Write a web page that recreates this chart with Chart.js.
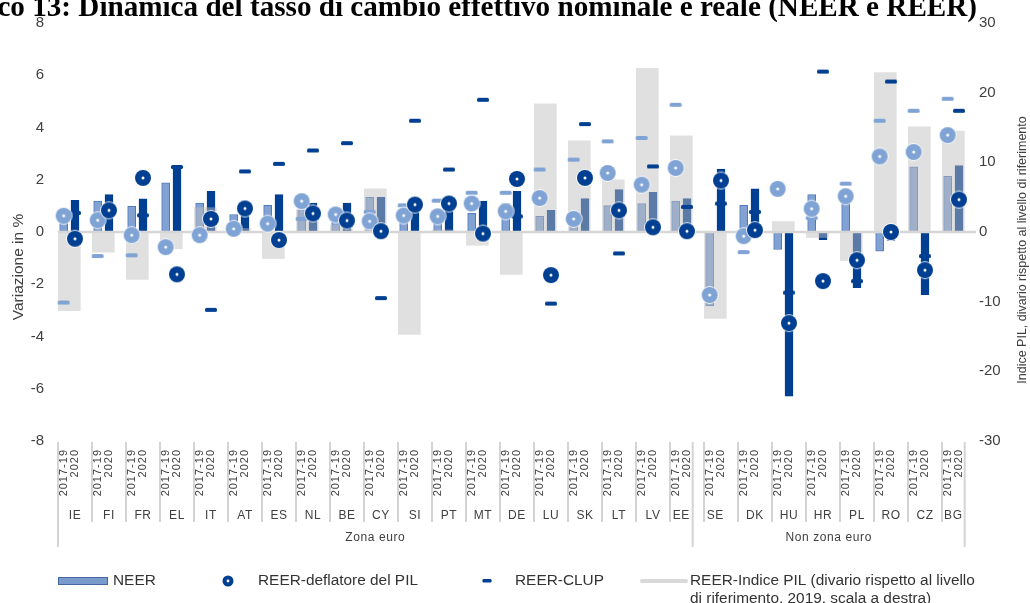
<!DOCTYPE html>
<html><head><meta charset="utf-8">
<script src="https://cdn.jsdelivr.net/npm/chart.js@4.4.1/dist/chart.umd.min.js"></script>
<style>html,body{margin:0;padding:0;background:#fff;overflow:hidden}#wrap{width:1030px;height:603px;position:relative}</style>
</head><body><div id="wrap"><canvas id="c" width="1030" height="603"></canvas></div>
<script>
// ---------- data ----------
const countries = ['IE','FI','FR','EL','IT','AT','ES','NL','BE','CY','SI','PT','MT','DE','LU','SK','LT','LV','EE','SE','DK','HU','HR','PL','RO','CZ','BG'];
const periods = ['2017-19','2020'];
const groups = ['Zona euro','Non zona euro'];
const euroCount = 19;
// NEER (% change)
const neer1719 = [0.55,1.18,0.98,1.88,1.11,0.67,1.02,0.85,0.60,1.33,0.60,0.50,0.71,1.09,0.60,0.45,1.01,1.09,1.18,-2.83,1.02,-0.67,1.43,1.37,-0.73,2.49,2.13];
const neer2020 = [1.21,1.43,1.27,2.49,1.56,0.95,1.43,1.11,1.11,1.33,1.18,1.09,1.18,1.56,0.83,1.28,1.62,1.52,1.28,2.41,1.65,-6.28,-0.29,-2.13,-0.32,-2.40,2.54];
// REER - GDP deflator
const defl1719 = [0.62,0.45,-0.12,-0.58,-0.12,0.12,0.32,1.18,0.67,0.41,0.63,0.60,1.09,0.79,1.30,0.50,2.26,1.81,2.45,-2.41,-0.16,1.65,0.89,1.37,2.89,3.06,3.71];
const defl2020 = [-0.26,0.83,2.07,-1.62,0.50,0.90,-0.31,0.71,0.44,0.03,1.05,1.09,-0.06,2.03,-1.65,2.07,0.83,0.18,0.03,1.97,0.07,-3.49,-1.88,-1.08,0.00,-1.46,1.24];
// REER - CLUP
const clup1719 = [-2.70,-0.92,-0.89,-0.58,-0.12,0.12,0.32,0.50,0.67,0.77,1.02,1.20,1.50,1.50,2.39,2.77,3.47,3.60,4.87,-2.41,-0.77,1.65,0.54,1.85,4.26,4.64,5.10];
const clup2020 = [0.73,0.83,0.64,2.49,-2.98,2.32,2.61,3.12,3.40,-2.53,4.26,2.39,5.06,0.60,-2.74,4.13,-0.82,2.51,0.96,1.09,0.77,-2.32,6.14,-1.88,5.76,-0.92,4.64];
// REER - GDP index (gap vs reference level, 2019, right scale)
const gdpGap = [-11.3,-2.9,-6.8,-2.4,3.5,0.5,-3.8,3.2,1.0,6.2,-14.7,0.3,-1.9,-6.1,18.4,13.1,7.5,23.5,13.8,-12.4,0.3,1.5,-0.8,-4.1,22.9,15.1,14.5];

const titleText = 'Grafico 13: Dinamica del tasso di cambio effettivo nominale e reale (NEER e REER)';
const leftTitle = 'Variazione in %';
const rightTitle = 'Indice PIL, divario rispetto al livello di riferimento';
const legendLabels = ['NEER','REER-deflatore del PIL','REER-CLUP','REER-Indice PIL (divario rispetto al livello','di riferimento, 2019, scala a destra)'];

// ---------- build tables ----------
const xLabels = [];
countries.forEach(() => { xLabels.push(periods[0], periods[1], ''); });
function interleave(a, b) { const r = []; a.forEach((v, i) => r.push(a[i], b[i], null)); return r; }
const neerData = interleave(neer1719, neer2020);
const deflData = interleave(defl1719, defl2020);
const clupData = interleave(clup1719, clup2020);
const gLabels = []; const gData = [];
for (let i = 0; i < xLabels.length + 1; i++) { gLabels.push(String(i)); gData.push(null); }
gdpGap.forEach((v, k) => { gData[3 * k + 1] = v; });

const FONT = "'Liberation Sans', Arial, Helvetica, sans-serif";
const LIGHT = '#7fa3d4', NAVY = '#003f91', TXT = '#404040';

function circleImg(color) {
  const c = document.createElement('canvas'); c.width = 20; c.height = 20;
  const g = c.getContext('2d');
  g.beginPath(); g.arc(10, 10, 8.9, 0, 2 * Math.PI); g.fillStyle = 'rgba(255,255,255,0.85)'; g.fill();
  g.beginPath(); g.arc(10, 10, 8.0, 0, 2 * Math.PI); g.fillStyle = color; g.fill();
  g.beginPath(); g.arc(10, 10, 1.5, 0, 2 * Math.PI); g.fillStyle = '#fff'; g.fill();
  return c;
}
function dashImg(color) {
  const c = document.createElement('canvas'); c.width = 14; c.height = 6;
  const g = c.getContext('2d');
  g.fillStyle = color; g.beginPath(); g.roundRect(1, 1, 12, 4, 1.6); g.fill();
  return c;
}
const circLight = circleImg(LIGHT), circNavy = circleImg(NAVY);
const dashLight = dashImg(LIGHT), dashNavy = dashImg(NAVY);

const decor = {
  id: 'decor',
  afterUpdate(chart) {
    const sc = chart.scales.x;
    if (sc && !sc._lsPatched) {
      const orig = sc.drawLabels.bind(sc);
      sc.drawLabels = function (ca) { const ctx = chart.ctx; ctx.save(); ctx.letterSpacing = '1px'; orig(ca); ctx.restore(); };
      sc._lsPatched = true;
    }
  },
  afterDatasetDraw(chart, args) {
    if (args.index !== 1) return;
    const ctx = chart.ctx, ca = chart.chartArea, y0 = chart.scales.y.getPixelForValue(0);
    ctx.save(); ctx.strokeStyle = '#d6d6d6'; ctx.lineWidth = 2.5;
    ctx.beginPath(); ctx.moveTo(ca.left, y0); ctx.lineTo(ca.right, y0); ctx.stroke(); ctx.restore();
  },
  afterDraw(chart) {
    const ctx = chart.ctx, ca = chart.chartArea, xs = chart.scales.x;
    const step = xs.getPixelForValue(1) - xs.getPixelForValue(0);
    const cStart = k => xs.getPixelForValue(3 * k) - step / 2;
    ctx.save();
    // title (clipped at top)
    ctx.font = "bold 26px 'Liberation Serif', 'Times New Roman', serif";
    const part = titleText.slice(titleText.indexOf('co 13'));
    const w = ctx.measureText(part).width;
    const fs = 26 * 980 / w;
    ctx.font = `bold ${fs.toFixed(2)}px 'Liberation Serif', 'Times New Roman', serif`;
    ctx.fillStyle = '#000'; ctx.textAlign = 'right'; ctx.textBaseline = 'alphabetic';
    ctx.fillText(titleText, 977, 16);
    // axis titles
    ctx.fillStyle = TXT; ctx.textAlign = 'center'; ctx.textBaseline = 'middle';
    ctx.save(); ctx.translate(19, 267); ctx.rotate(-Math.PI / 2); ctx.font = `15.5px ${FONT}`; ctx.fillText(leftTitle, 0, 0); ctx.restore();
    ctx.save(); ctx.translate(1023, 250); ctx.rotate(-Math.PI / 2); ctx.font = `12.5px ${FONT}`; ctx.fillText(rightTitle, 0, 0); ctx.restore();
    // separators
    ctx.strokeStyle = '#d4d4d4'; ctx.lineWidth = 2;
    const yb = ca.bottom + 1;
    const euroEnd = cStart(euroCount - 1) + 2 * step;
    const allEnd = cStart(countries.length - 1) + 2 * step;
    ctx.beginPath();
    for (let k = 1; k < countries.length; k++) { const x = cStart(k); ctx.moveTo(x, yb); ctx.lineTo(x, 522); }
    [cStart(0), euroEnd, allEnd].forEach(x => { ctx.moveTo(x, yb); ctx.lineTo(x, 547); });
    ctx.stroke();
    // country labels
    ctx.font = `12px ${FONT}`; ctx.letterSpacing = '0.6px'; ctx.fillStyle = TXT;
    countries.forEach((c, k) => {
      let a = cStart(k), b = cStart(k + 1);
      if (k === euroCount - 1) b = euroEnd;
      if (k === euroCount) a = euroEnd;
      if (k === countries.length - 1) b = allEnd;
      ctx.fillText(c, (a + b) / 2, 516);
    });
    ctx.fillText(groups[0], (cStart(0) + euroEnd) / 2, 538);
    ctx.fillText(groups[1], (euroEnd + allEnd) / 2, 538);
    ctx.letterSpacing = '0px';
    // legend
    const ly = 581;
    ctx.fillStyle = '#7b9bcc'; ctx.fillRect(58.5, 577.5, 49, 7);
    ctx.strokeStyle = '#44679f'; ctx.lineWidth = 1; ctx.strokeRect(58.5, 577.5, 49, 7);
    ctx.beginPath(); ctx.arc(228, ly, 5.5, 0, 2 * Math.PI); ctx.fillStyle = NAVY; ctx.fill();
    ctx.beginPath(); ctx.arc(228, ly, 1.4, 0, 2 * Math.PI); ctx.fillStyle = '#fff'; ctx.fill();
    ctx.fillStyle = NAVY; ctx.beginPath(); ctx.roundRect(482.5, 579, 9, 3.5, 1.2); ctx.fill();
    ctx.strokeStyle = '#d9d9d9'; ctx.lineWidth = 4; ctx.lineCap = 'round';
    ctx.beginPath(); ctx.moveTo(642, ly); ctx.lineTo(686, ly); ctx.stroke();
    ctx.font = `15.4px ${FONT}`; ctx.fillStyle = '#333'; ctx.textAlign = 'left';
    ctx.fillText(legendLabels[0], 113, ly);
    ctx.fillText(legendLabels[1], 258, ly);
    ctx.fillText(legendLabels[2], 515, ly);
    ctx.fillText(legendLabels[3], 690, ly);
    ctx.fillText(legendLabels[4], 690, 599);
    ctx.restore();
  }
};

new Chart(document.getElementById('c'), {
  data: {
    labels: xLabels,
    datasets: [
      { type: 'line', label: 'REER-deflatore del PIL', data: deflData, xAxisID: 'x', yAxisID: 'y', showLine: false, order: 0,
        pointRadius: 8, pointHoverRadius: 8, pointStyle: c => (c.dataIndex % 3 === 0 ? circLight : circNavy) },
      { type: 'bar', label: 'REER-Indice PIL', data: gData, xAxisID: 'xg', yAxisID: 'y2', order: 2, grouped: false,
        backgroundColor: 'rgba(190,190,190,0.48)', borderWidth: 0, barThickness: 22 },
      { type: 'line', label: 'REER-CLUP', data: clupData, xAxisID: 'x', yAxisID: 'y', showLine: false, order: 1,
        pointRadius: 7, pointHoverRadius: 7, pointStyle: c => (c.dataIndex % 3 === 0 ? dashLight : dashNavy) },
      { type: 'bar', label: 'NEER', data: neerData, xAxisID: 'x', yAxisID: 'y', order: 3, grouped: false, barThickness: 8,
        backgroundColor: c => (c.dataIndex % 3 === 0 ? '#82a2d3' : NAVY),
        borderColor: c => (c.dataIndex % 3 === 0 ? '#4f7abd' : NAVY), borderWidth: 1 }
    ]
  },
  options: {
    responsive: false, animation: false, devicePixelRatio: 1,
    layout: { padding: { top: 22, left: 0, right: 0, bottom: 0 } },
    plugins: { legend: { display: false }, tooltip: { enabled: false } },
    scales: {
      x: { type: 'category', position: 'bottom', offset: true,
        grid: { display: false, drawTicks: false }, border: { display: false },
        ticks: { autoSkip: false, minRotation: 90, maxRotation: 90, padding: 8, color: TXT, font: { size: 11, family: FONT } },
        afterFit: s => { s.height = 162; } },
      xg: { type: 'category', labels: gLabels, offset: false, display: false, grid: { display: false } },
      y: { type: 'linear', position: 'left', min: -8, max: 8,
        grid: { display: false, drawTicks: false }, border: { display: false },
        ticks: { stepSize: 2, padding: 14, color: TXT, font: { size: 15, family: FONT } },
        afterFit: s => { s.width = 58; } },
      y2: { type: 'linear', position: 'right', min: -30, max: 30,
        grid: { display: false, drawTicks: false }, border: { display: false },
        ticks: { stepSize: 10, padding: 3, color: TXT, font: { size: 15, family: FONT } },
        afterFit: s => { s.width = 54; } }
    }
  },
  plugins: [decor]
});
</script></body></html>
